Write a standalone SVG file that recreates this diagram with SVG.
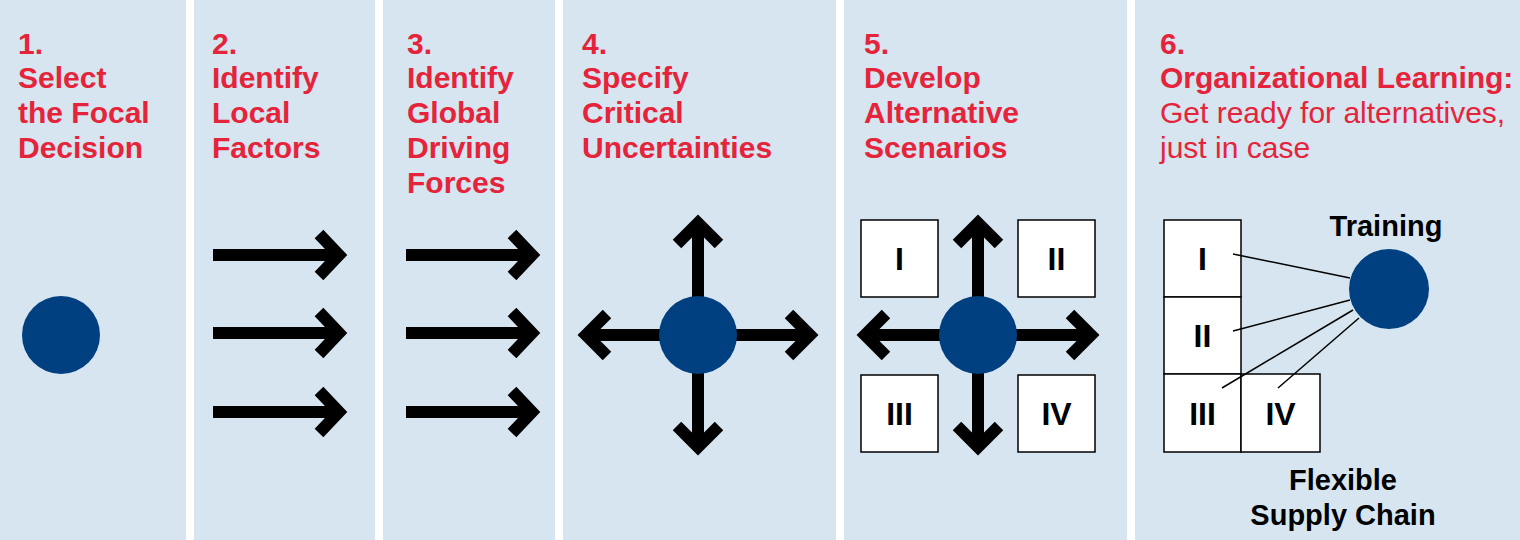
<svg xmlns="http://www.w3.org/2000/svg" width="1520" height="540" viewBox="0 0 1520 540">
<style>
.p{fill:#d6e5ef}
.t{font-family:"Liberation Sans",Arial,sans-serif;font-weight:bold;font-size:30px;fill:#e5243b}
.n{font-weight:normal}
.a{stroke:#000;stroke-width:12;fill:none;stroke-linecap:butt}
.c{fill:#003f80}
.b{fill:#fff;stroke:#000;stroke-width:1.5}
.r{font-family:"Liberation Sans",Arial,sans-serif;font-weight:bold;font-size:32px;text-anchor:middle}
.k{font-family:"Liberation Sans",Arial,sans-serif;font-weight:bold;font-size:29px;text-anchor:middle}
.l{stroke:#000;stroke-width:1.5}
</style>
<defs>
<path id="ar" class="a" d="M0,0H124M106,-21L126,0L106,21"/>
</defs>
<rect width="1520" height="540" fill="#fff"/>
<g id="panels">
<rect class="p" x="0" y="0" width="186" height="540"/>
<rect class="p" x="194" y="0" width="181" height="540"/>
<rect class="p" x="383" y="0" width="172" height="540"/>
<rect class="p" x="563" y="0" width="273" height="540"/>
<rect class="p" x="844" y="0" width="283" height="540"/>
<rect class="p" x="1135" y="0" width="385" height="540"/>
</g>
<g id="titles" class="t">
<text x="18" y="54">1.</text><text x="18" y="88">Select</text><text x="18" y="123">the Focal</text><text x="18" y="158">Decision</text>
<text x="212" y="54">2.</text><text x="212" y="88">Identify</text><text x="212" y="123">Local</text><text x="212" y="158">Factors</text>
<text x="407" y="54">3.</text><text x="407" y="88">Identify</text><text x="407" y="123">Global</text><text x="407" y="158">Driving</text><text x="407" y="193">Forces</text>
<text x="582" y="54">4.</text><text x="582" y="88">Specify</text><text x="582" y="123">Critical</text><text x="582" y="158">Uncertainties</text>
<text x="864" y="54">5.</text><text x="864" y="88">Develop</text><text x="864" y="123">Alternative</text><text x="864" y="158">Scenarios</text>
<text x="1160" y="54">6.</text><text x="1160" y="88">Organizational Learning:</text>
<text x="1160" y="123" class="n">Get ready for alternatives,</text><text x="1160" y="158" class="n">just in case</text>
</g>
<g id="node1"><circle class="c" cx="61" cy="335" r="39"/></g>
<g id="node2">
<use href="#ar" x="213" y="255"/><use href="#ar" x="213" y="333"/><use href="#ar" x="213" y="412"/>
</g>
<g id="node3">
<use href="#ar" x="406" y="255"/><use href="#ar" x="406" y="333"/><use href="#ar" x="406" y="412"/>
</g>
<g id="node4">
<path class="a" d="M698,226V444M589,335H807M677,244L698,223L719,244M677,426L698,447L719,426M607,314L586,335L607,356M789,314L810,335L789,356"/>
<circle class="c" cx="698" cy="335" r="39"/>
</g>
<g id="node5">
<rect class="b" x="861" y="220" width="77" height="77"/><text class="r" x="899.5" y="270">I</text>
<rect class="b" x="1018" y="220" width="77" height="77"/><text class="r" x="1056.5" y="270">II</text>
<rect class="b" x="861" y="375" width="77" height="77"/><text class="r" x="899.5" y="425">III</text>
<rect class="b" x="1018" y="375" width="77" height="77"/><text class="r" x="1056.5" y="425">IV</text>
<path class="a" d="M978,226V444M868,335H1088M957,244L978,223L999,244M957,426L978,447L999,426M886,314L865,335L886,356M1070,314L1091,335L1070,356"/>
<circle class="c" cx="978" cy="335" r="39"/>
</g>
<g id="node6">
<rect class="b" x="1164" y="220" width="77" height="77"/><text class="r" x="1202.5" y="270">I</text>
<rect class="b" x="1164" y="297" width="77" height="77"/><text class="r" x="1202.5" y="347">II</text>
<rect class="b" x="1164" y="374" width="77" height="78"/><text class="r" x="1202.5" y="425">III</text>
<rect class="b" x="1241" y="374" width="79" height="78"/><text class="r" x="1280.5" y="425">IV</text>
<circle class="c" cx="1389" cy="289" r="40"/>
<text class="k" x="1386" y="236">Training</text>
<text class="k" x="1343" y="490">Flexible</text>
<text class="k" x="1343" y="525">Supply Chain</text>
</g>
<g id="connectors">
<line class="l" x1="1233" y1="254" x2="1350" y2="278"/>
<line class="l" x1="1233" y1="331" x2="1350" y2="300"/>
<line class="l" x1="1222" y1="388" x2="1353" y2="310"/>
<line class="l" x1="1278" y1="388" x2="1359" y2="318"/>
</g>
</svg>
